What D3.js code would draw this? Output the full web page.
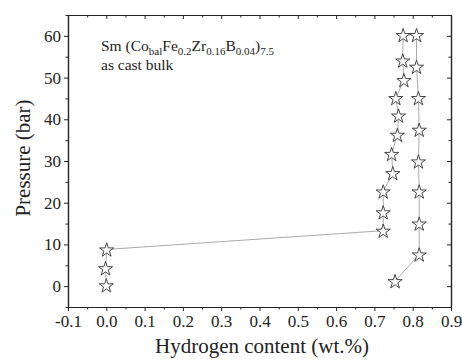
<!DOCTYPE html>
<html>
<head>
<meta charset="utf-8">
<script src="https://cdn.jsdelivr.net/npm/d3@7"></script>
<style>
  body { margin: 0; background: #fff; }
  svg text { font-family: 'Liberation Serif', 'DejaVu Serif', Times, serif !important; fill: #222; }
</style>
</head>
<body>
<svg id="chart" width="462" height="360"></svg>
<script>
var width = 462, height = 360;
var margin = {top: 15, right: 11, bottom: 53, left: 68};

// measured points, in the order they are joined (absorption up, desorption down)
var hydrogen = [0.000, -0.002, 0.001, 0.723, 0.723, 0.723, 0.748, 0.745, 0.760, 0.763, 0.756, 0.777, 0.774, 0.775,
                0.810, 0.810, 0.815, 0.817, 0.815, 0.817, 0.817, 0.817, 0.754];
var pressure = [0.2, 4.3, 8.8, 13.3, 17.7, 22.7, 27.1, 31.7, 36.3, 40.9, 45.1, 49.4, 54.1, 60.2,
                60.2, 52.6, 45.1, 37.5, 29.9, 22.7, 15.0, 7.6, 1.2];

var xTicks = [-0.1, 0, 0.1, 0.2, 0.3, 0.4, 0.5, 0.6, 0.7, 0.8, 0.9];
var yTicks = [0, 10, 20, 30, 40, 50, 60];

var points = hydrogen.map((h, i) => ({h: h, p: pressure[i]}));

var svg = d3.select("svg#chart");

var x = d3.scaleLinear().domain([-0.1, 0.9]).range([margin.left, width - margin.right]);
var y = d3.scaleLinear().domain([-5, 65]).range([height - margin.bottom, margin.top]);

var xMinor = d3.range(-0.05, 0.9, 0.1);
var yMinor = d3.range(-5, 66, 10);

function styleAxis(g) {
  g.attr("font-family", null);
  g.selectAll("path.domain").attr("stroke", "#222").attr("stroke-width", 1.2);
  g.selectAll(".tick line").attr("stroke", "#222");
  g.selectAll(".tick text").attr("font-size", 17).attr("fill", "#222");
}

// bottom axis
svg.append("g")
  .attr("transform", `translate(0,${height - margin.bottom})`)
  .call(d3.axisBottom(x).tickValues(xTicks).tickSize(4).tickSizeOuter(0).tickPadding(4)
    .tickFormat(d => d.toFixed(1)))
  .call(styleAxis);

svg.append("g")
  .attr("transform", `translate(0,${height - margin.bottom})`)
  .call(d3.axisBottom(x).tickValues(xMinor).tickSize(2.5).tickSizeOuter(0).tickFormat(""))
  .call(styleAxis);

// top axis, ticks inside
svg.append("g")
  .attr("transform", `translate(0,${margin.top})`)
  .call(d3.axisBottom(x).tickValues(xTicks).tickSize(4).tickSizeOuter(0).tickFormat(""))
  .call(styleAxis);

svg.append("g")
  .attr("transform", `translate(0,${margin.top})`)
  .call(d3.axisBottom(x).tickValues(xMinor).tickSize(2.5).tickSizeOuter(0).tickFormat(""))
  .call(styleAxis);

// left axis
svg.append("g")
  .attr("transform", `translate(${margin.left},0)`)
  .call(d3.axisLeft(y).tickValues(yTicks).tickSize(4).tickSizeOuter(0).tickPadding(3))
  .call(styleAxis);

svg.append("g")
  .attr("transform", `translate(${margin.left},0)`)
  .call(d3.axisLeft(y).tickValues(yMinor).tickSize(2.5).tickSizeOuter(0).tickFormat(""))
  .call(styleAxis);

// right axis, ticks inside
svg.append("g")
  .attr("transform", `translate(${width - margin.right},0)`)
  .call(d3.axisLeft(y).tickValues(yTicks).tickSize(4).tickSizeOuter(0).tickFormat(""))
  .call(styleAxis);

svg.append("g")
  .attr("transform", `translate(${width - margin.right},0)`)
  .call(d3.axisLeft(y).tickValues(yMinor).tickSize(2.5).tickSizeOuter(0).tickFormat(""))
  .call(styleAxis);

// connecting line
var line = d3.line().x(d => x(d.h)).y(d => y(d.p));

svg.append("path")
  .datum(points)
  .attr("d", line)
  .attr("fill", "none")
  .attr("stroke", "#aaa")
  .attr("stroke-width", 1);

// star markers
var star = d3.symbol().type(d3.symbolStar).size(62);

svg.selectAll("path.star")
  .data(points)
  .enter().append("path")
  .attr("class", "star")
  .attr("transform", d => `translate(${x(d.h)},${y(d.p) + 0.8})`)
  .attr("d", star)
  .attr("fill", "#fff")
  .attr("stroke", "#333")
  .attr("stroke-width", 0.9);

// axis titles
svg.append("text")
  .attr("x", 262)
  .attr("y", 353)
  .attr("text-anchor", "middle")
  .attr("font-size", 21)
  .text("Hydrogen content (wt.%)");

svg.append("text")
  .attr("transform", `translate(30,158) rotate(-90)`)
  .attr("text-anchor", "middle")
  .attr("font-size", 21)
  .text("Pressure (bar)");

// composition label
var label = svg.append("text")
  .attr("x", 101)
  .attr("y", 51)
  .attr("font-size", 15.5);

var parts = [["Sm (Co", 0], ["bal", 1], ["Fe", 0], ["0.2", 1], ["Zr", 0], ["0.16", 1], ["B", 0], ["0.04", 1], [")", 0], ["7.5", 1]];
var sub = false;
parts.forEach(function(p) {
  var t = label.append("tspan").text(p[0]);
  if (p[1] && !sub) { t.attr("dy", 4).attr("font-size", 11); sub = true; }
  else if (p[1]) { t.attr("font-size", 11); }
  else if (sub) { t.attr("dy", -4); sub = false; }
});

svg.append("text")
  .attr("x", 101)
  .attr("y", 69.5)
  .attr("font-size", 15.5)
  .text("as cast bulk");
</script>
</body>
</html>
